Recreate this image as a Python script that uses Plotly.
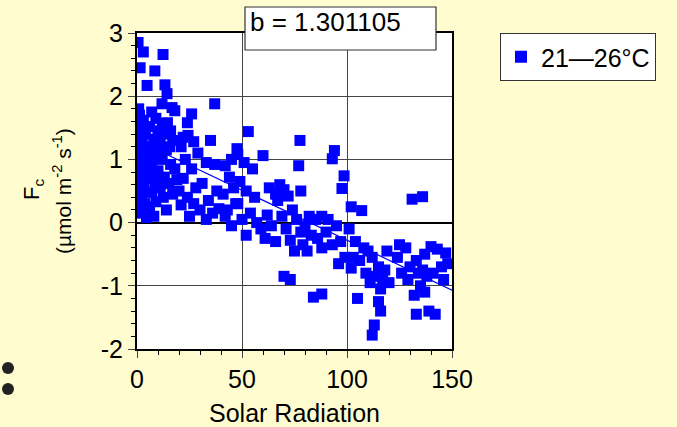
import plotly.graph_objects as go

# ---- data ----
solar = [0.5,3,1.5,0.8,1.2,0.5,2,0.7,1.5,0.3,2.5,1,3.5,0.6,2.2,1.3,4,0.4,2.8,1.7,0.9,3.2,0.5,2,1.1,3.6,0.7,2.4,4.5,1.5,3,4,4.8,0.2,5,4.2,
         8.5,4.8,12.4,13.3,14.3,11.9,16.7,18,12,14.5,7,9,6,10,16,13,8,17,11,6.5,14,9.5,12,7,16,18,10,6,13,8.5,15,11,7,17,12.5,9,6,14,19,20,8,11,15.5,
         37,26,24,24.3,22,27,35,21,29,23,33,26,37,22,31,28,38,24,34,21,30,36,25,33,39,27,
         53,47.6,48,45,51,42,55,44,49,46,52,41,56,48,43,54,50,45,57,42,59,52,47,60,
         77.6,63,66,68,70,72,67,74,62,69,76,64,71,78,61,66,73,79,75,70,73,77,78,80,
         94,93,98.6,97.6,82,85,88,91,95,83,86,90,93,97,81,88,99,84,88,96,
         102,107,101,104,108,103,106,110,112,115,118,102,109,113,117,111,116,120,115,105,116,113,112,119,
         131,136,125,128,133,137,140,143,147,124,130,134,138,141,145,148,132,135,137,133,139,142,126,129,136,146]
fc = [2.85,2.70,2.45,1.80,1.70,1.62,1.55,1.48,1.42,1.35,1.30,1.25,1.20,1.12,1.05,0.98,0.92,0.85,0.80,0.72,0.65,0.60,0.52,0.45,0.38,0.30,0.22,0.15,0.08,0.55,1.62,1.40,1.10,0.95,0.70,0.48,
      2.40,2.17,2.66,2.18,2.04,1.88,1.82,1.77,1.57,1.58,1.75,1.65,1.52,1.45,1.45,1.40,1.32,1.30,1.25,1.18,1.15,1.08,1.00,0.95,0.92,0.85,0.82,0.78,0.72,0.65,0.62,0.55,0.48,0.45,0.40,0.33,0.25,0.20,0.68,0.50,0.10,0.60,1.20,
      1.88,1.72,1.58,1.38,1.35,1.28,1.30,1.20,1.10,1.00,0.95,0.85,0.92,0.70,0.62,0.55,0.50,0.40,0.35,0.28,0.20,0.15,0.10,0.05,0.22,0.30,
      1.44,1.17,1.08,1.00,0.95,0.90,0.85,0.72,0.65,0.55,0.50,0.45,0.40,0.30,0.20,0.15,0.05,-0.05,0.00,0.10,-0.10,-0.20,0.30,1.06,
      1.30,0.55,0.45,0.60,0.52,0.42,0.35,0.20,0.12,0.10,0.05,-0.05,-0.10,-0.15,-0.25,-0.30,-0.28,-0.35,-0.45,-0.85,-0.90,0.90,0.50,-0.05,
      1.14,1.01,0.74,0.54,0.10,0.05,0.10,0.05,-0.05,-0.20,-0.25,-0.15,-0.35,-0.30,-0.45,-0.40,-0.55,-1.18,-1.13,-0.65,
      0.25,0.19,-0.10,-0.30,-0.40,-0.55,-0.60,-0.45,-0.55,-0.70,-0.75,-0.72,-0.80,-0.85,-0.90,-0.95,-1.05,-0.95,-1.25,-1.20,-1.40,-1.62,-1.78,-0.45,
      0.37,0.41,-0.35,-0.40,-0.60,-0.50,-0.38,-0.42,-0.48,-0.55,-0.70,-0.80,-0.85,-0.80,-0.70,-0.65,-1.15,-1.00,-1.10,-1.45,-1.40,-1.45,-0.80,-0.90,-0.75,-0.90]

intercept = 1.301105
slope = -0.0158
fit_x = [0, 150]
fit_y = [intercept + slope * v for v in fit_x]

series_name = "21\u201426\u00b0C"
x_ticks = [0, 50, 100, 150]
x_tick_text = ["0", "50", "100", "150"]
y_ticks = [-2, -1, 0, 1, 2, 3]
y_tick_text = ["-2", "-1", "0", "1", "2", "3"]

FONT = "Liberation Sans, Arial, sans-serif"
BLUE = "#0000FF"
BG = "#FFFDD0"

fig = go.Figure()
fig.add_trace(go.Scatter(x=solar, y=fc, mode="markers", name=series_name,
                         marker=dict(symbol="square", size=11, color=BLUE, line=dict(width=0))))
fig.add_trace(go.Scatter(x=fit_x, y=fit_y, mode="lines", showlegend=False,
                         line=dict(color=BLUE, width=1.2)))

L, R, T, B = 137, 225, 33, 78
W, H = 677, 427
pw, ph = W - L - R, H - T - B

def px(xp):
    return (xp - L) / pw

def py(yp):
    return (H - B - yp) / ph

fig.update_layout(
    width=W, height=H,
    margin=dict(l=L, r=R, t=T, b=B),
    paper_bgcolor=BG,
    plot_bgcolor="white",
    font=dict(family=FONT, size=25, color="black"),
    showlegend=True,
    legend=dict(x=px(500), y=py(33), xanchor="left", yanchor="top",
                bgcolor="white", bordercolor="#333333", borderwidth=1,
                font=dict(size=25), itemsizing="constant"),
    xaxis=dict(range=[0, 150], tickvals=x_ticks, ticktext=x_tick_text, ticks="outside", ticklen=7, tickwidth=1,
               showline=True, linecolor="black", linewidth=2, mirror=True, automargin=False,
               showgrid=True, gridcolor="#444444", gridwidth=1, zeroline=False,
               minor=dict(dtick=10, ticks="outside", ticklen=4, tickcolor="black", showgrid=False),
               title=dict(text="Solar Radiation", font=dict(size=25), standoff=12)),
    yaxis=dict(range=[-2, 3], tickvals=y_ticks, ticktext=y_tick_text, ticks="outside", ticklen=7, tickwidth=1,
               showline=True, linecolor="black", linewidth=2, mirror=True, automargin=False,
               showgrid=True, gridcolor="#444444", gridwidth=1,
               zeroline=True, zerolinecolor="black", zerolinewidth=1.5,
               minor=dict(dtick=0.2, ticks="outside", ticklen=4, tickcolor="black", showgrid=False)),
)

# y axis title (two lines)
fig.add_annotation(xref="paper", yref="paper", x=px(33), y=py(190), text="F<sub>c</sub>",
                   textangle=-90, showarrow=False, font=dict(size=22), xanchor="center", yanchor="middle")
fig.add_annotation(xref="paper", yref="paper", x=px(62), y=py(191),
                   text="(\u00b5mol m<sup>-2</sup> s<sup>-1</sup>)",
                   textangle=-90, showarrow=False, font=dict(size=21), xanchor="center", yanchor="middle")

# b = box
fig.add_shape(type="rect", xref="paper", yref="paper", x0=px(245), x1=px(436), y0=py(50), y1=py(7),
              fillcolor="white", line=dict(color="#333333", width=1.2), layer="above")
fig.add_annotation(xref="paper", yref="paper", x=px(248), y=py(22), text="b = 1.301105",
                   showarrow=False, xanchor="left", yanchor="middle", font=dict(size=26))

# slide bullets
for cy in (368, 389):
    fig.add_shape(type="circle", xref="paper", yref="paper",
                  x0=px(2), x1=px(14), y0=py(cy + 6), y1=py(cy - 6),
                  fillcolor="#222222", line=dict(width=0))

fig.write_html("out.html", config={"displayModeBar": False},
               post_script="document.body.style.margin='0';document.body.style.background='%s';" % BG)
